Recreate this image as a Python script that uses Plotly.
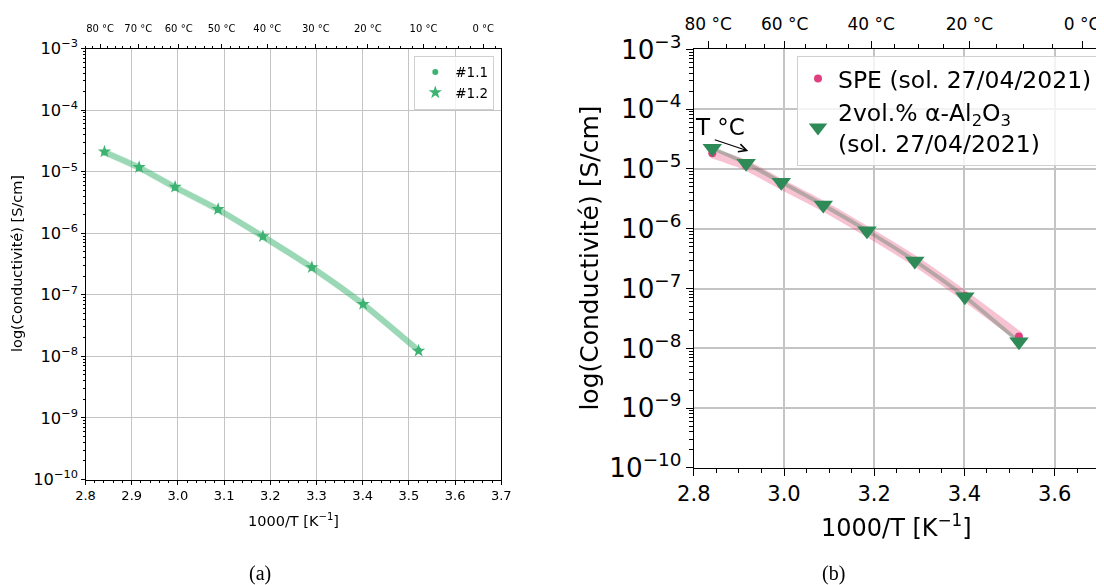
import plotly.graph_objects as go

# ---------------- data ----------------
inv_T = [2.841, 2.916, 2.994, 3.087, 3.184, 3.290, 3.401, 3.521]  # 1000/T [K^-1]

# (a)
sigma_11 = [2.05e-5, 1.15e-5, 5.50e-6, 2.40e-6, 8.80e-7, 2.75e-7, 7.00e-8, 1.25e-8]
sigma_12 = [2.11e-5, 1.18e-5, 5.64e-6, 2.45e-6, 8.90e-7, 2.79e-7, 7.06e-8, 1.23e-8]

# (b)
sigma_spe = [1.83e-5, 1.15e-5, 5.55e-6, 2.40e-6, 9.00e-7, 2.90e-7, 7.50e-8, 1.58e-8]
sigma_al = [2.22e-5, 1.25e-5, 6.00e-6, 2.50e-6, 9.30e-7, 2.90e-7, 7.30e-8, 1.29e-8]

temps_a_major = [80, 70, 60, 50, 40, 30, 20, 10, 0]
temps_a_minor = [84, 82, 78, 76, 74, 72, 68, 66, 64, 62, 58, 56, 54, 52, 48, 46, 44, 42,
                 38, 36, 34, 32, 28, 26, 24, 22, 18, 16, 14, 12, 8, 6, 4, 2, -2]
temps_b_major = [80, 60, 40, 20, 0]
temps_b_minor = [75, 70, 65, 55, 50, 45, 35, 30, 25, 15, 10, 5]

x_range = [2.8, 3.7]
y_range_log = [-10, -3]


def to_inv(t):
    return 1000.0 / (t + 273.15)


# page body has an 8px default margin: work in reference pixels and offset
OFF = 8
W, H = 1104 - OFF, 585 - OFF


def px(x):
    return (x - OFF) / W


def py(y):
    return 1 - (y - OFF) / H


FONT = "DejaVu Sans, Verdana, sans-serif"
GREEN_A = "#3cb371"
PINK = "#e0407f"
GREEN_B = "#2e8b57"
GRID = "#c4c4c4"

dom_a_x = [px(85.5), px(501.3)]
dom_a_y = [py(479.5), py(48.5)]
dom_b_x = [px(693.8), px(1099.7)]
dom_b_y = [py(467.9), py(49.4)]

fig = go.Figure()

# ---------- panel (a) ----------
fig.add_trace(go.Scatter(x=inv_T, y=sigma_11, mode="lines", line=dict(color="rgba(60,179,113,0.3)", width=6, shape="spline", smoothing=0.6),
                         xaxis="x", yaxis="y", showlegend=False, hoverinfo="skip"))
fig.add_trace(go.Scatter(x=inv_T, y=sigma_12, mode="lines", line=dict(color="rgba(60,179,113,0.3)", width=6, shape="spline", smoothing=0.6),
                         xaxis="x", yaxis="y", showlegend=False, hoverinfo="skip"))
fig.add_trace(go.Scatter(x=inv_T, y=sigma_11, mode="markers", name="#1.1",
                         marker=dict(symbol="circle", size=6, color=GREEN_A),
                         xaxis="x", yaxis="y", legend="legend"))
fig.add_trace(go.Scatter(x=inv_T, y=sigma_12, mode="markers", name="#1.2",
                         marker=dict(symbol="star", size=10, color=GREEN_A),
                         xaxis="x", yaxis="y", legend="legend"))
# invisible helper to activate the top axis of (a)
fig.add_trace(go.Scatter(x=inv_T, y=sigma_12, mode="markers", opacity=0, showlegend=False,
                         hoverinfo="skip", xaxis="x3", yaxis="y"))

# ---------- panel (b) ----------
fig.add_trace(go.Scatter(x=inv_T, y=sigma_spe, mode="lines", line=dict(color="rgba(231,84,128,0.35)", width=10, shape="spline", smoothing=0.6),
                         xaxis="x2", yaxis="y2", showlegend=False, hoverinfo="skip"))
fig.add_trace(go.Scatter(x=inv_T, y=sigma_al, mode="lines", line=dict(color="rgba(46,110,70,0.32)", width=4, shape="spline", smoothing=0.6),
                         xaxis="x2", yaxis="y2", showlegend=False, hoverinfo="skip"))
fig.add_trace(go.Scatter(x=inv_T, y=sigma_spe, mode="markers", name="SPE (sol. 27/04/2021)",
                         marker=dict(symbol="circle", size=8, color=PINK),
                         xaxis="x2", yaxis="y2", legend="legend2"))
fig.add_trace(go.Scatter(x=inv_T, y=sigma_al, mode="markers",
                         name="2vol.% α-Al<sub>2</sub>O<sub>3</sub><br>(sol. 27/04/2021)",
                         marker=dict(symbol="triangle-down", size=17, color=GREEN_B),
                         xaxis="x2", yaxis="y2", legend="legend2"))
fig.add_trace(go.Scatter(x=inv_T, y=sigma_al, mode="markers", opacity=0, showlegend=False,
                         hoverinfo="skip", xaxis="x4", yaxis="y2"))

common_x = dict(range=x_range, showline=True, linecolor="black", mirror=True, ticks="outside",
                tickcolor="black", showgrid=True, gridcolor=GRID, zeroline=False, tickformat=".1f",
                automargin=False)
common_y = dict(type="log", range=y_range_log, dtick=1, exponentformat="power", showline=True,
                linecolor="black", mirror=True, ticks="outside", tickcolor="black",
                showgrid=True, gridcolor=GRID, zeroline=False, automargin=False)

fig.update_layout(
    width=W, height=H, margin=dict(l=0, r=0, t=0, b=0, autoexpand=False),
    paper_bgcolor="white", plot_bgcolor="white",
    font=dict(family=FONT, color="black"),
    xaxis=dict(**common_x, domain=dom_a_x, anchor="y", dtick=0.1, tick0=2.8, ticklen=4, linewidth=1,
               gridwidth=1.2, tickfont=dict(size=13),
               minor=dict(dtick=0.02, ticks="outside", ticklen=2, tickcolor="black", showgrid=False)),
    yaxis=dict(**common_y, domain=dom_a_y, anchor="x", ticklen=4, linewidth=1, gridwidth=1.2,
               tickfont=dict(size=13),
               minor=dict(ticks="outside", ticklen=2, tickcolor="black", showgrid=False)),
    xaxis3=dict(range=x_range, overlaying="x", anchor="y", side="top", showgrid=False, zeroline=False,
                automargin=False, ticklabelstandoff=8,
                tickmode="array", tickvals=[to_inv(t) for t in temps_a_major],
                ticktext=[f"{t} °C" for t in temps_a_major], ticks="outside", ticklen=4,
                tickcolor="black", tickfont=dict(size=10),
                minor=dict(tickmode="array", tickvals=[to_inv(t) for t in temps_a_minor],
                           ticks="outside", ticklen=2, tickcolor="black", showgrid=False)),
    xaxis2=dict(**common_x, domain=dom_b_x, anchor="y2", dtick=0.2, tick0=2.8, ticklen=7, linewidth=1.3,
                gridwidth=1.5, tickfont=dict(size=21),
                minor=dict(dtick=0.05, ticks="outside", ticklen=4, tickcolor="black", showgrid=False)),
    yaxis2=dict(**common_y, domain=dom_b_y, anchor="x2", ticklen=7, linewidth=1.3, gridwidth=1.5,
                tickfont=dict(size=21),
                minor=dict(ticks="outside", ticklen=4, tickcolor="black", showgrid=False)),
    xaxis4=dict(range=x_range, overlaying="x2", anchor="y2", side="top", showgrid=False, zeroline=False,
                automargin=False, ticklabelstandoff=5,
                tickmode="array", tickvals=[to_inv(t) for t in temps_b_major],
                ticktext=[f"{t} °C" for t in temps_b_major], ticks="outside", ticklen=7,
                tickcolor="black", tickfont=dict(size=17),
                minor=dict(tickmode="array", tickvals=[to_inv(t) for t in temps_b_minor],
                           ticks="outside", ticklen=4, tickcolor="black", showgrid=False)),
    legend=dict(x=px(494.3), y=py(55.7), xanchor="right", yanchor="top",
                bgcolor="rgba(255,255,255,0.8)", bordercolor="#d0d0d0", borderwidth=1,
                font=dict(size=13.5), itemsizing="trace"),
    legend2=dict(x=px(797), y=py(55.8), xanchor="left", yanchor="top",
                 bgcolor="rgba(255,255,255,0.8)", bordercolor="#d0d0d0", borderwidth=1,
                 font=dict(size=23.5), itemsizing="trace", tracegroupgap=0),
    showlegend=True,
)

C = dict(xanchor="center", yanchor="middle", showarrow=False)
ann = [
    dict(text="log(Conductivité) [S/cm]", x=px(17), y=py(264), xref="paper", yref="paper",
         textangle=-90, font=dict(size=14.5), **C),
    dict(text="1000/T [K<sup>−1</sup>]", x=(dom_a_x[0] + dom_a_x[1]) / 2, y=py(520), xref="paper",
         yref="paper", font=dict(size=14.5), **C),
    dict(text="log(Conductivité) [S/cm]", x=px(590), y=py(258.6), xref="paper", yref="paper",
         textangle=-90, font=dict(size=25), **C),
    dict(text="1000/T [K<sup>−1</sup>]", x=(dom_b_x[0] + dom_b_x[1]) / 2, y=py(526), xref="paper",
         yref="paper", font=dict(size=24), **C),
    dict(text="(a)", x=px(260), y=py(573), xref="paper", yref="paper",
         font=dict(size=20, family="Liberation Serif, serif"), **C),
    dict(text="(b)", x=px(833), y=py(573), xref="paper", yref="paper",
         font=dict(size=20, family="Liberation Serif, serif"), **C),
    dict(text="T °C", x=2.859, y=-4.293, xref="x2", yref="y2", font=dict(size=23), **C),
    dict(text="", x=2.9208, y=-4.699, xref="x2", yref="y2", ax=2.8432, ay=-4.503, axref="x2", ayref="y2",
         showarrow=True, arrowhead=5, arrowsize=1.3, arrowwidth=1.2, arrowcolor="black"),
]
fig.update_layout(annotations=ann)

fig.write_html("out.html")
